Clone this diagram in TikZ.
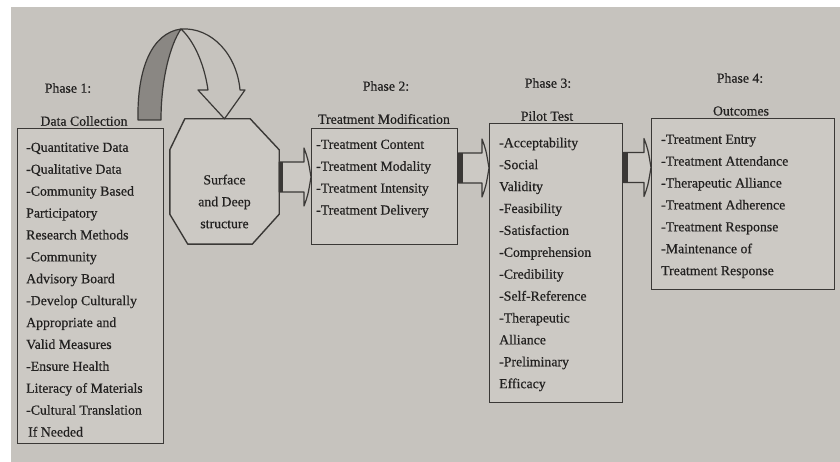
\documentclass[tikz,border=0pt]{standalone}
\usepackage{fontspec}
\setmainfont[FakeBold=0.5]{Liberation Serif}
\usetikzlibrary{calc}
\definecolor{paper}{RGB}{198,195,190}
\definecolor{boxfill}{RGB}{204,201,196}
\definecolor{ink}{RGB}{58,56,54}
\definecolor{txt}{RGB}{34,33,32}
\definecolor{band}{RGB}{138,135,131}
\begin{document}
\begin{tikzpicture}[x=1pt,y=-1pt,
  box/.style={draw=ink, line width=1.4pt, fill=boxfill, inner sep=0pt, anchor=north west},
  list/.style={align=left, anchor=north west, inner sep=0pt, text=txt,
    font=\fontsize{13.8}{21.9}\selectfont},
  head/.style={inner sep=0pt, text=txt, font=\fontsize{13.8}{16}\selectfont},
  blockarrow/.style={draw=ink, line width=1.2pt, fill=boxfill, line join=round,
    to path={let \p1=(\tikztostart), \p2=(\tikztotarget) in
      (\x1,\y1+15pt) -- (\x2-7pt,\y1+15pt) -- (\x2-7pt,\y1+29pt)
      .. controls (\x2-3pt,\y1+18pt) .. (\x2,\y1)
      .. controls (\x2-3pt,\y1-18pt) .. (\x2-7pt,\y1-29pt)
      -- (\x2-7pt,\y1-15pt) -- (\x1,\y1-15pt) -- cycle}},
  arrowedge/.style={draw=ink, line width=4.5pt,
    to path={let \p1=(\tikztostart) in (\x1+2pt,\y1+15pt) -- (\x1+2pt,\y1-15pt)}}
]
\useasboundingbox (0,0) rectangle (840,462);
% page photo on white
\fill[white] (0,0) rectangle (840,462);
\fill[paper] (11,7) rectangle (840,462);

% phase boxes
\node[box, minimum width=146pt, minimum height=315pt] (p1) at (17,128) {};
\node[box, minimum width=146pt, minimum height=116pt] (p2) at (311,128) {};
\node[box, minimum width=133pt, minimum height=279pt] (p3) at (489,123) {};
\node[box, minimum width=183pt, minimum height=171pt] (p4) at (651,118) {};

% headings
\node[head] (h1a) at (68,88) {Phase 1:};
\node[head] (h1b) at (84,121) {Data Collection};
\node[head] (h2a) at (386,86) {Phase 2:};
\node[head] (h2b) at (384,119) {Treatment Modification};
\node[head] (h3a) at (548,83) {Phase 3:};
\node[head] (h3b) at (547,116) {Pilot Test};
\node[head] (h4a) at (740,78) {Phase 4:};
\node[head] (h4b) at (741,111) {Outcomes};

% box contents
\node[list] (l1) at (26,142.5) {-Quantitative Data\\-Qualitative Data\\-Community Based\\Participatory\\Research Methods\\-Community\\Advisory Board\\-Develop Culturally\\Appropriate and\\Valid Measures\\-Ensure Health\\Literacy of Materials\\-Cultural Translation\\\hspace*{2pt}If Needed};
\node[list] (l2) at (316,139.5) {-Treatment Content\\-Treatment Modality\\-Treatment Intensity\\-Treatment Delivery};
\node[list] (l3) at (499,137.5) {-Acceptability\\-Social\\Validity\\-Feasibility\\-Satisfaction\\-Comprehension\\-Credibility\\-Self-Reference\\-Therapeutic\\Alliance\\-Preliminary\\Efficacy};
\node[list] (l4) at (661,134.5) {-Treatment Entry\\-Treatment Attendance\\-Therapeutic Alliance\\-Treatment Adherence\\-Treatment Response\\-Maintenance of\\Treatment Response};

% octagon
\node[inner sep=0pt, minimum width=109pt, minimum height=125pt] (oct) at (224.5,181.5) {};
\draw[ink, line width=1.4pt, fill=boxfill, line join=round]
  ([xshift=15pt]oct.north west) -- ([xshift=-29pt]oct.north east)
  -- ([yshift=-31pt]oct.north east) -- ([yshift=30pt]oct.south east)
  -- ([xshift=-27pt]oct.south east) -- ([xshift=18pt]oct.south west)
  -- ([yshift=30pt]oct.south west) -- ([yshift=-31pt]oct.north west) -- cycle;
\node[list, align=center, anchor=center] (octtxt) at ([yshift=-20pt]oct.center) {Surface\\and Deep\\structure};

% curved arrow looping onto the octagon
\filldraw[fill=band, draw=ink, line width=1.2pt, line join=round]
  (138,120) .. controls (137,68) and (152,33) .. (181,29)
  .. controls (170,45) and (161,80) .. (161,120) -- cycle;
\filldraw[fill=paper, draw=ink, line width=1.2pt, line join=round]
  (181,29) .. controls (212,27) and (237,55) .. (240,90) -- (245,90)
  -- (oct.north) -- (198,90) -- (208,90)
  .. controls (204,62) and (193,40) .. (181,29) -- cycle;

% block arrows between the phases
\coordinate (a1s) at (oct.east |- 0,177);
\coordinate (a1t) at (p2.west |- 0,177);
\coordinate (a2s) at (p2.east |- 0,168);
\coordinate (a2t) at (p3.west |- 0,168);
\coordinate (a3s) at (p3.east |- 0,167.5);
\coordinate (a3t) at (p4.west |- 0,167.5);
\foreach \s/\t in {a1s/a1t, a2s/a2t, a3s/a3t}{
  \draw[blockarrow] (\s) to (\t);
  \draw[arrowedge] (\s) to (\t);
}
\end{tikzpicture}
\end{document}
